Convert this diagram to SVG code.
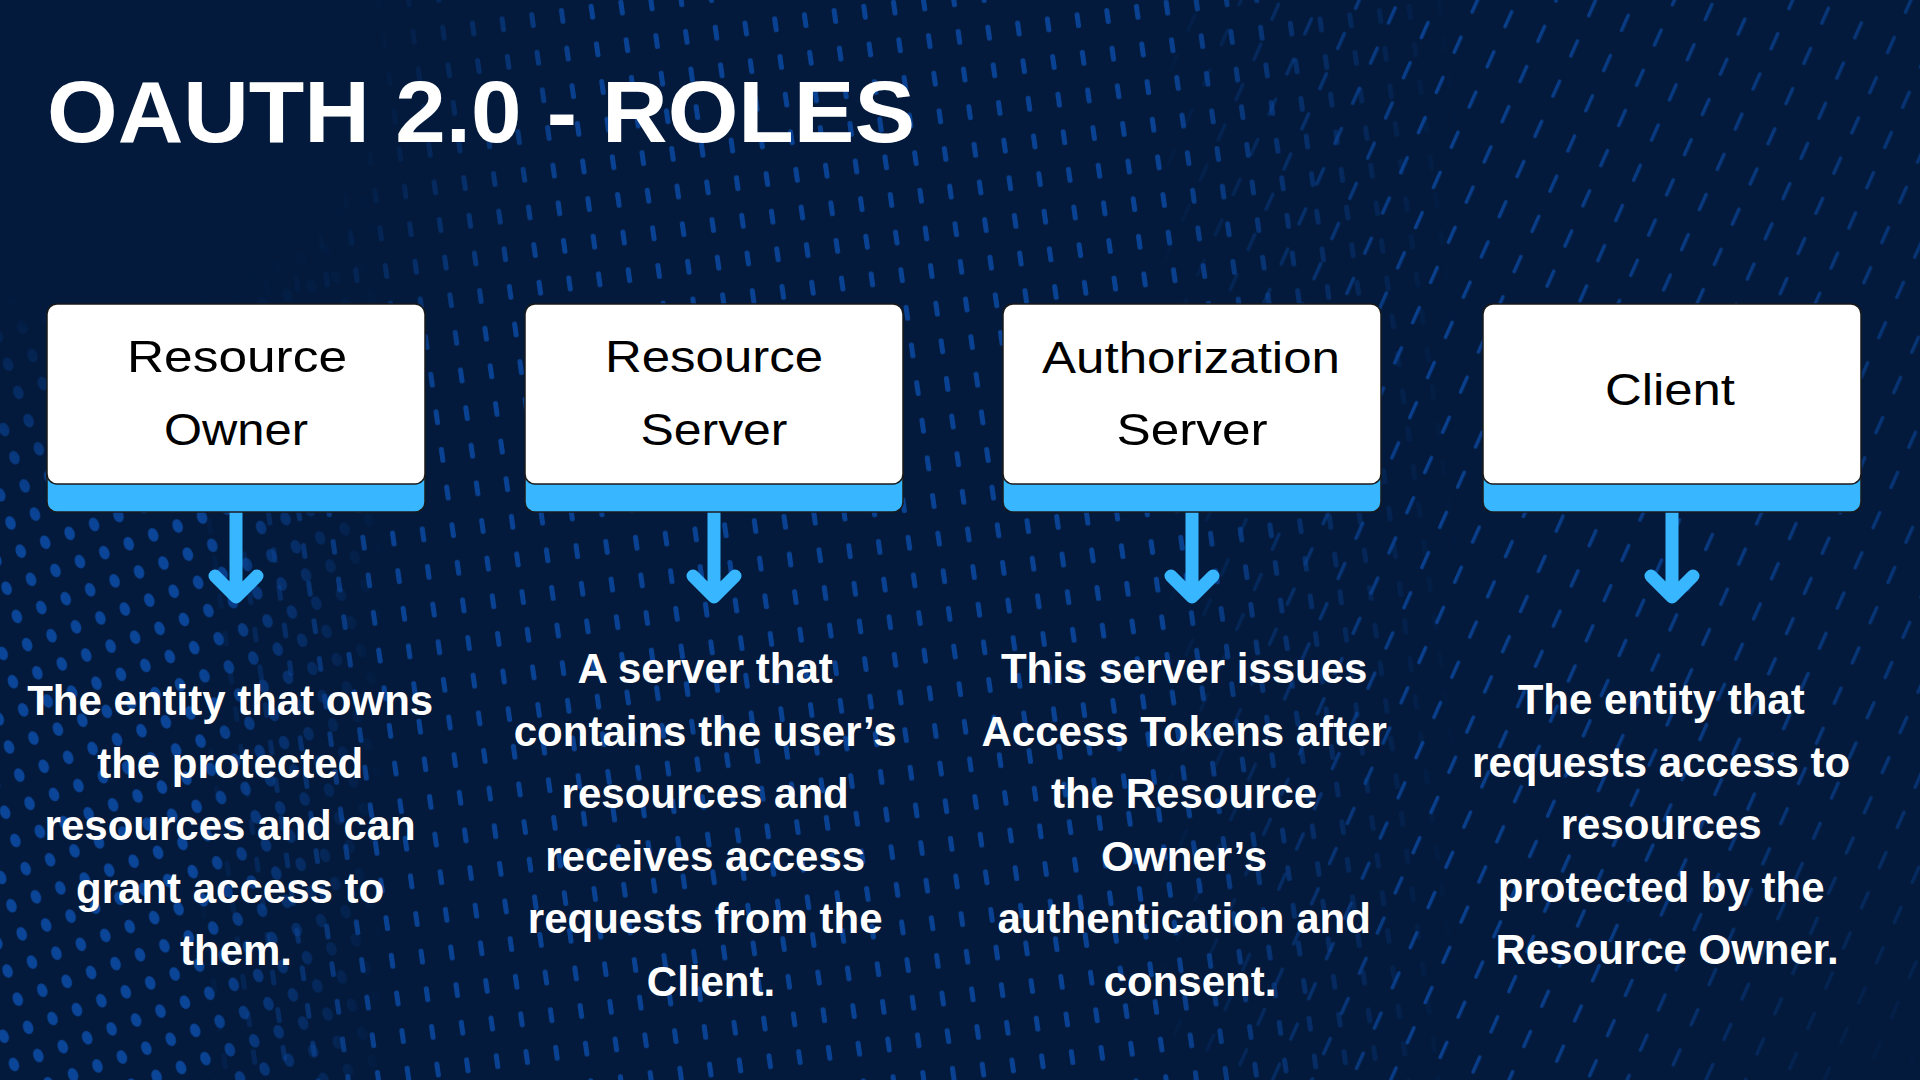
<svg xmlns="http://www.w3.org/2000/svg" width="1920" height="1080" viewBox="0 0 1920 1080">
  <style>
    .title { font-family: "Liberation Sans", Arial, sans-serif; font-weight: 700; font-size: 88px; fill: #ffffff; }
    .label { font-family: "Liberation Sans", Arial, sans-serif; font-size: 45px; fill: #000000; text-anchor: middle; }
    .desc { font-family: "Liberation Sans", Arial, sans-serif; font-weight: 700; font-size: 42px; fill: #ffffff; text-anchor: middle; }
    .card { fill: #ffffff; stroke: #1a1a1a; stroke-width: 1.5; }
    .base { fill: #38b6ff; stroke: #1a1a1a; stroke-width: 1.5; }
    .arrow { fill: none; stroke: #38b6ff; stroke-width: 13; stroke-linecap: round; stroke-linejoin: round; }
  </style>
  <defs>
    <!-- rounded dots on the far left -->
    <pattern id="dots" width="26" height="30" patternUnits="userSpaceOnUse" patternTransform="rotate(-20)">
      <ellipse cx="13" cy="15" rx="5" ry="7" fill="#0c4aa3"/>
    </pattern>
    <!-- short vertical dashes across the middle -->
    <pattern id="dashV" width="30" height="38" patternUnits="userSpaceOnUse" patternTransform="rotate(-8)">
      <rect x="12" y="10" width="5" height="16" rx="2.5" fill="#0c4aa3"/>
    </pattern>
    <!-- thin slanted strokes on the right -->
    <pattern id="dashS" width="36" height="44" patternUnits="userSpaceOnUse" patternTransform="rotate(24)">
      <rect x="16" y="10" width="3.5" height="20" rx="1.75" fill="#0c4aa3"/>
    </pattern>
    <linearGradient id="fadeDots" gradientUnits="userSpaceOnUse" x1="0" y1="0" x2="1920" y2="0">
      <stop offset="0" stop-color="#fff"/>
      <stop offset="0.1" stop-color="#fff"/>
      <stop offset="0.2" stop-color="#000"/>
    </linearGradient>
    <linearGradient id="fadeMid" gradientUnits="userSpaceOnUse" x1="0" y1="0" x2="1920" y2="0">
      <stop offset="0.1" stop-color="#000"/>
      <stop offset="0.2" stop-color="#fff"/>
      <stop offset="0.6" stop-color="#fff"/>
      <stop offset="0.76" stop-color="#000"/>
    </linearGradient>
    <linearGradient id="fadeRight" gradientUnits="userSpaceOnUse" x1="0" y1="0" x2="1920" y2="0">
      <stop offset="0.6" stop-color="#000"/>
      <stop offset="0.74" stop-color="#fff"/>
      <stop offset="1" stop-color="#aaa"/>
    </linearGradient>
    <radialGradient id="hole" gradientUnits="userSpaceOnUse" cx="110" cy="50" r="480">
      <stop offset="0" stop-color="#000" stop-opacity="1"/>
      <stop offset="0.55" stop-color="#000" stop-opacity="1"/>
      <stop offset="1" stop-color="#000" stop-opacity="0"/>
    </radialGradient>
    <radialGradient id="holeR" gradientUnits="userSpaceOnUse" cx="1900" cy="1080" r="320">
      <stop offset="0" stop-color="#000" stop-opacity="1"/>
      <stop offset="1" stop-color="#000" stop-opacity="0"/>
    </radialGradient>
    <mask id="maskDots" maskUnits="userSpaceOnUse" x="0" y="0" width="1920" height="1080">
      <rect width="1920" height="1080" fill="url(#fadeDots)"/>
      <rect width="1920" height="1080" fill="url(#hole)"/>
    </mask>
    <mask id="maskV" maskUnits="userSpaceOnUse" x="0" y="0" width="1920" height="1080">
      <rect width="1920" height="1080" fill="url(#fadeMid)"/>
      <rect width="1920" height="1080" fill="url(#hole)"/>
    </mask>
    <mask id="maskS" maskUnits="userSpaceOnUse" x="0" y="0" width="1920" height="1080">
      <rect width="1920" height="1080" fill="url(#fadeRight)"/>
      <rect width="1920" height="1080" fill="url(#holeR)"/>
    </mask>
  </defs>

  <!-- backdrop -->
  <rect width="1920" height="1080" fill="#031a3c"/>
  <rect width="1920" height="1080" fill="url(#dots)" mask="url(#maskDots)" opacity="0.9"/>
  <rect width="1920" height="1080" fill="url(#dashV)" mask="url(#maskV)" opacity="0.85"/>
  <rect width="1920" height="1080" fill="url(#dashS)" mask="url(#maskS)" opacity="0.8"/>

  <text class="title" x="47" y="142" textLength="868" lengthAdjust="spacingAndGlyphs">OAUTH 2.0 - ROLES</text>

  <!-- connectors: card to description -->
  <g id="connectors">
    <path class="arrow" d="M236 512 V596 M215 576 L236 597 L257 576"/>
    <path class="arrow" d="M714 512 V596 M693 576 L714 597 L735 576"/>
    <path class="arrow" d="M1192 512 V596 M1171 576 L1192 597 L1213 576"/>
    <path class="arrow" d="M1672 512 V596 M1651 576 L1672 597 L1693 576"/>
  </g>

  <g id="resource-owner">
    <rect class="base" x="47" y="460" width="378" height="52" rx="10"/>
    <rect class="card" x="47" y="304" width="378" height="180" rx="10"/>
    <text class="label" x="237" y="372" textLength="220" lengthAdjust="spacingAndGlyphs">Resource</text>
    <text class="label" x="236" y="445" textLength="144" lengthAdjust="spacingAndGlyphs">Owner</text>
    <text class="desc" x="236">
      <tspan x="236" y="715">The entity that owns</tspan>
      <tspan x="236" y="778">the protected</tspan>
      <tspan x="236" y="840">resources and can</tspan>
      <tspan x="236" y="903">grant access to</tspan>
      <tspan x="236" y="965">them.</tspan>
    </text>
  </g>

  <g id="resource-server">
    <rect class="base" x="525" y="460" width="378" height="52" rx="10"/>
    <rect class="card" x="525" y="304" width="378" height="180" rx="10"/>
    <text class="label" x="714" y="372" textLength="218" lengthAdjust="spacingAndGlyphs">Resource</text>
    <text class="label" x="714" y="445" textLength="147" lengthAdjust="spacingAndGlyphs">Server</text>
    <text class="desc" x="711">
      <tspan x="711" y="683">A server that</tspan>
      <tspan x="711" y="746">contains the user’s</tspan>
      <tspan x="711" y="808">resources and</tspan>
      <tspan x="711" y="871">receives access</tspan>
      <tspan x="711" y="933">requests from the</tspan>
      <tspan x="711" y="996">Client.</tspan>
    </text>
  </g>

  <g id="authorization-server">
    <rect class="base" x="1003" y="460" width="378" height="52" rx="10"/>
    <rect class="card" x="1003" y="304" width="378" height="180" rx="10"/>
    <text class="label" x="1191" y="373" textLength="298" lengthAdjust="spacingAndGlyphs">Authorization</text>
    <text class="label" x="1192" y="445" textLength="151" lengthAdjust="spacingAndGlyphs">Server</text>
    <text class="desc" x="1190">
      <tspan x="1190" y="683">This server issues</tspan>
      <tspan x="1190" y="746">Access Tokens after</tspan>
      <tspan x="1190" y="808">the Resource</tspan>
      <tspan x="1190" y="871">Owner’s</tspan>
      <tspan x="1190" y="933">authentication and</tspan>
      <tspan x="1190" y="996">consent.</tspan>
    </text>
  </g>

  <g id="client">
    <rect class="base" x="1483" y="460" width="378" height="52" rx="10"/>
    <rect class="card" x="1483" y="304" width="378" height="180" rx="10"/>
    <text class="label" x="1670" y="405" textLength="130" lengthAdjust="spacingAndGlyphs">Client</text>
    <text class="desc" x="1667">
      <tspan x="1667" y="714">The entity that</tspan>
      <tspan x="1667" y="777">requests access to</tspan>
      <tspan x="1667" y="839">resources</tspan>
      <tspan x="1667" y="902">protected by the</tspan>
      <tspan x="1667" y="964">Resource Owner.</tspan>
    </text>
  </g>
</svg>
